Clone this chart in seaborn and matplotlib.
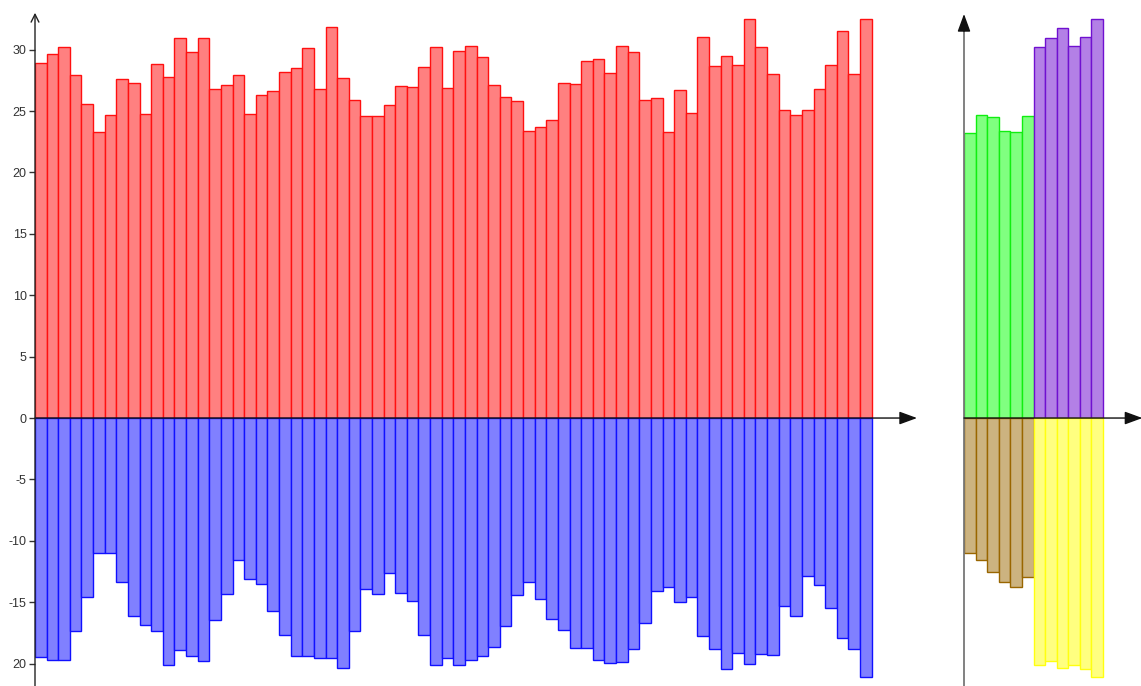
import numpy as np
import pandas as pd
import matplotlib
matplotlib.use("Agg")
import matplotlib.pyplot as plt
import seaborn as sns

# ---- data ----
red_values = [28.94, 29.65, 30.22, 27.96, 25.56, 23.28, 24.64, 27.63, 27.25, 24.78, 28.83, 27.80,
              30.95, 29.81, 30.95, 26.82, 27.09, 27.96, 24.72, 26.30, 26.65, 28.15, 28.53, 30.14,
              26.76, 31.82, 27.69, 25.89, 24.56, 24.56, 25.51, 27.01, 26.93, 28.61, 30.24, 26.90,
              29.89, 30.30, 29.37, 27.09, 26.11, 25.82, 23.41, 23.69, 24.26, 27.28, 27.20, 29.10,
              29.27, 28.10, 30.33, 29.81, 25.92, 26.03, 23.33, 26.73, 24.80, 31.03, 28.69, 29.46,
              28.75, 32.50, 30.24, 28.04, 25.07, 24.64, 25.07, 26.76, 28.78, 31.55, 27.99, 32.53]
blue_values = [-19.43, -19.68, -19.68, -17.38, -14.59, -11.03, -10.95, -13.38, -16.16, -16.86, -17.35, -20.11,
               -18.89, -19.41, -19.78, -16.43, -14.35, -11.57, -13.08, -13.49, -15.73, -17.65, -19.35, -19.41,
               -19.54, -19.57, -20.38, -17.32, -13.89, -14.35, -12.62, -14.27, -14.86, -17.70, -20.11, -19.54,
               -20.11, -19.68, -19.38, -18.68, -16.95, -14.41, -13.38, -14.76, -16.35, -17.24, -18.70, -18.73,
               -19.68, -19.95, -19.84, -18.78, -16.73, -14.08, -13.78, -14.95, -14.59, -17.78, -18.78, -20.46,
               -19.14, -20.03, -19.22, -19.32, -15.30, -16.11, -12.89, -13.62, -15.49, -17.89, -18.78, -21.05]
green_values = [23.24, 24.65, 24.49, 23.35, 23.27, 24.60]
purple_values = [30.18, 30.94, 31.76, 30.26, 31.00, 32.49]
brown_values = [-10.95, -11.54, -12.57, -13.38, -13.76, -12.92]
yellow_values = [-20.08, -19.78, -20.38, -20.11, -20.46, -21.08]
ytick_values = [-20, -15, -10, -5, 0, 5, 10, 15, 20, 25, 30]
ytick_labels = ["20", "-15", "-10", "-5", "0", "5", "10", "15", "20", "25", "30"]

sns.set_style("white")
plt.rcParams["font.family"] = ["Liberation Sans", "DejaVu Sans"]

W, H = 1141, 686
fig = plt.figure(figsize=(W / 100, H / 100), dpi=100)
YMIN, YMAX = -21.82, 34.04
LW = 1.0

# ---- left panel ----
axL = fig.add_axes([35 / W, 0, (917 - 35) / W, 1])
n = len(red_values)
left_df = pd.DataFrame({"i": np.arange(n), "red": red_values, "blue": blue_values})
sns.barplot(data=left_df, x="i", y="red", color="#FF8080", saturation=1, width=1,
            edgecolor="#FF1010", linewidth=LW, ax=axL)
sns.barplot(data=left_df, x="i", y="blue", color="#8080FF", saturation=1, width=1,
            edgecolor="#1010FF", linewidth=LW, ax=axL)
axL.set_xlim(-0.5, 75.4)
axL.set_ylim(YMIN, YMAX)
for s in axL.spines.values():
    s.set_visible(False)
axL.set_xticks([])
axL.set_xlabel("")
axL.set_ylabel("")
axL.set_yticks(ytick_values)
axL.set_yticklabels(ytick_labels)
axL.tick_params(axis="y", direction="out", length=4, width=1, color="#333333",
                labelsize=9, labelcolor="#333333", pad=2, left=True)
axL.annotate("", xy=(75.4, 0), xytext=(-0.5, 0), annotation_clip=False,
             arrowprops=dict(arrowstyle="-|>,head_length=0.6,head_width=0.22", mutation_scale=18,
                             color="#111111", lw=1.0, shrinkA=0, shrinkB=0))
axL.annotate("", xy=(-0.5, 33.0), xytext=(-0.5, YMIN), annotation_clip=False,
             arrowprops=dict(arrowstyle="->,head_length=0.4,head_width=0.2", mutation_scale=14,
                             color="#222222", lw=1.0, shrinkA=0, shrinkB=0))

# ---- right panel ----
axR = fig.add_axes([964 / W, 0, (W - 964) / W, 1])
m = len(green_values)
right_df = pd.DataFrame({"i": np.arange(2 * m),
                         "top": green_values + purple_values,
                         "bottom": brown_values + yellow_values,
                         "g": ["a"] * m + ["b"] * m})
sns.barplot(data=right_df, x="i", y="top", hue="g", palette=["#80FF80", "#B380E6"],
            saturation=1, width=1, dodge=False, legend=False, ax=axR, linewidth=LW)
sns.barplot(data=right_df, x="i", y="bottom", hue="g", palette=["#CCB380", "#FFFF80"],
            saturation=1, width=1, dodge=False, legend=False, ax=axR, linewidth=LW)
edge_cols = ["#10EE10"] * m + ["#7010D0"] * m + ["#996600"] * m + ["#FFFF10"] * m
for patch, ec in zip(axR.patches, edge_cols):
    patch.set_edgecolor(ec)
axR.set_xlim(-0.5, 14.78)
axR.set_ylim(YMIN, YMAX)
for s in axR.spines.values():
    s.set_visible(False)
axR.set_xticks([])
axR.set_yticks([])
axR.set_xlabel("")
axR.set_ylabel("")
axR.annotate("", xy=(14.9, 0), xytext=(-0.5, 0), annotation_clip=False,
             arrowprops=dict(arrowstyle="-|>,head_length=0.6,head_width=0.22", mutation_scale=18,
                             color="#111111", lw=1.0, shrinkA=0, shrinkB=0))
axR.plot([-0.5, -0.5], [YMIN, 32.0], color="#777777", lw=1.3, clip_on=False)
axR.annotate("", xy=(-0.5, 32.9), xytext=(-0.5, 31.5), annotation_clip=False,
             arrowprops=dict(arrowstyle="-|>,head_length=0.6,head_width=0.22", mutation_scale=18,
                             color="#111111", lw=1.0, shrinkA=0, shrinkB=0))

fig.savefig("out.png", dpi=100)
